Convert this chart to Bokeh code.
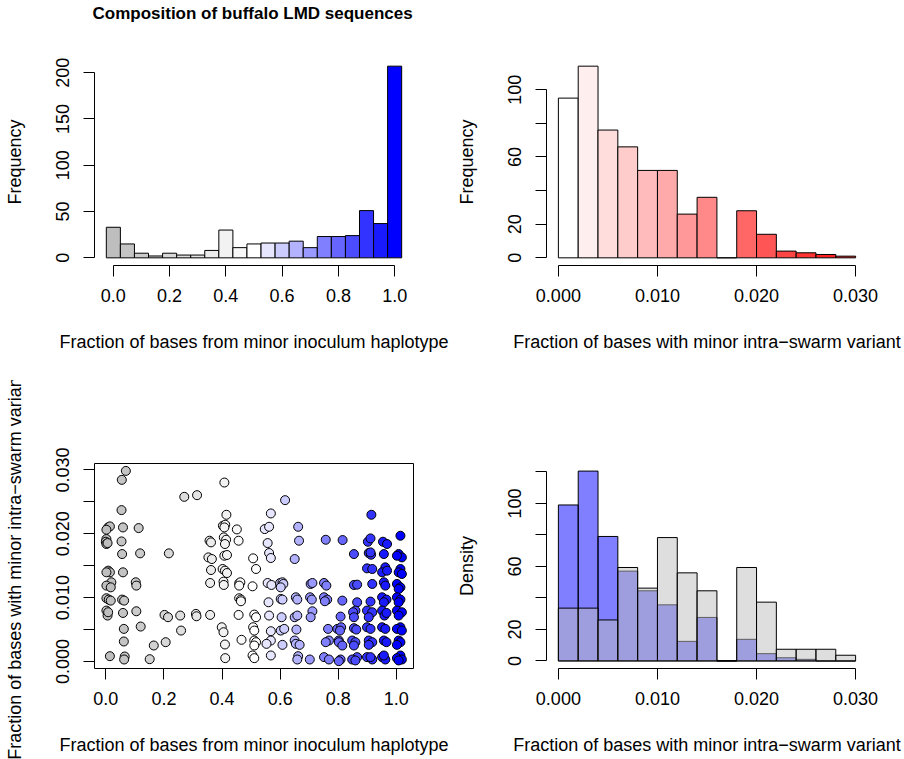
from bokeh.plotting import figure
from bokeh.layouts import gridplot
from bokeh.models import Range1d, FixedTicker, NumeralTickFormatter, ColumnDataSource
from bokeh.embed import file_html
from bokeh.resources import INLINE

FONT = "Liberation Sans"
FS = "18px"

# --- Fraction of bases from the minor inoculum haplotype (bins of width 0.05) ---
hap_centers = [0.00, 0.05, 0.10, 0.15, 0.20, 0.25, 0.30, 0.35, 0.40, 0.45, 0.50,
               0.55, 0.60, 0.65, 0.70, 0.75, 0.80, 0.85, 0.90, 0.95, 1.00]
hap_counts = [33, 15, 5, 2, 5, 3, 3, 8, 30, 11, 15, 16, 16, 18, 11, 23, 23, 24, 51, 37, 207]
hap_width = 0.05

# --- Fraction of bases with a minor intra-swarm variant (bins of width 0.002) ---
var_breaks = [0.000, 0.002, 0.004, 0.006, 0.008, 0.010, 0.012, 0.014, 0.016,
              0.018, 0.020, 0.022, 0.024, 0.026, 0.028, 0.030]
var_counts = [95, 114, 76, 66, 52, 52, 26, 36, 0, 28, 14, 4, 3, 2, 1]

# Densities of the two overlaid groups
dens_blue = [99, 120.5, 79, 57, 44.5, 35.6, 12.4, 27.6, 0, 13.7, 4.6, 2, 1, 0, 0]
dens_gray = [33.5, 33.5, 26, 59.3, 46.2, 78.3, 55.9, 44.5, 0, 59.3, 37.3, 7.4, 7.4, 7.4, 3.6]

# --- Per-sequence values: haplotype fraction vs variant fraction ---
scatter_x = [
    0.008, 0.014, 0.002, 0.002, 0.000, 0.002, 0.006, 0.008, 0.014, 0.002,
    0.019, 0.002, 0.017, 0.002, 0.010, 0.017, 0.002, 0.006, 0.008, 0.014,
    0.069, 0.055, 0.054, 0.059, 0.054, 0.056, 0.059, 0.056, 0.063, 0.059,
    0.062, 0.062, 0.065, 0.063,
    0.113, 0.118, 0.103, 0.105, 0.105, 0.120,
    0.165, 0.151,
    0.206, 0.217, 0.202, 0.214,
    0.270, 0.256, 0.259,
    0.314, 0.310, 0.312,
    0.357, 0.362, 0.353, 0.365, 0.362, 0.359, 0.359,
    0.408, 0.415, 0.403, 0.411, 0.408, 0.406, 0.414, 0.410, 0.408, 0.417,
    0.402, 0.410, 0.417, 0.405, 0.406, 0.399, 0.405, 0.410, 0.411,
    0.451, 0.457, 0.459, 0.463, 0.459, 0.459, 0.465, 0.465, 0.457, 0.467,
    0.507, 0.517, 0.505, 0.511, 0.517, 0.507, 0.511, 0.511, 0.517, 0.511,
    0.505, 0.511,
    0.547, 0.562, 0.568, 0.557, 0.562, 0.568, 0.557, 0.570, 0.560, 0.562,
    0.568, 0.568, 0.553, 0.568,
    0.600, 0.608, 0.611, 0.602, 0.602, 0.608, 0.605, 0.602, 0.614, 0.608,
    0.617,
    0.662, 0.665, 0.650, 0.654, 0.659, 0.650, 0.659, 0.656, 0.650, 0.654,
    0.667, 0.662, 0.659,
    0.705, 0.711, 0.703, 0.709, 0.711, 0.705, 0.702,
    0.757, 0.751, 0.759, 0.751, 0.762, 0.754, 0.765, 0.768, 0.757, 0.751,
    0.768,
    0.815, 0.814, 0.797, 0.810, 0.806, 0.808, 0.802, 0.802, 0.814, 0.808,
    0.802,
    0.854, 0.854, 0.865, 0.865, 0.859, 0.851, 0.854, 0.854, 0.862, 0.848,
    0.859, 0.854, 0.865, 0.848, 0.859,
    0.914, 0.902, 0.911, 0.905, 0.913, 0.911, 0.899, 0.917, 0.917, 0.911,
    0.899, 0.917, 0.905, 0.899, 0.911, 0.905, 0.917, 0.905, 0.899, 0.917,
    0.911,
    0.954, 0.968, 0.957, 0.962, 0.951, 0.968, 0.957, 0.962, 0.951, 0.966,
    0.957, 0.951, 0.959, 0.966, 0.951, 0.962, 0.957, 0.966, 0.951, 0.962,
    0.957,
    1.014, 1.008, 1.019, 1.002, 1.014, 1.008, 1.019, 1.002, 1.014, 1.008,
    1.002, 1.014, 1.008, 1.002, 1.019, 1.008, 1.014, 1.002, 1.019, 1.008,
    1.014, 1.002, 1.014, 1.002, 1.019, 1.008,
]
scatter_y = [
    0.02099, 0.02115, 0.02063, 0.01917, 0.01875, 0.01839, 0.01854, 0.01422, 0.01396, 0.01396,
    0.01240, 0.01188, 0.01161, 0.00990, 0.00969, 0.00953, 0.00797, 0.00719, 0.00771, 0.00083,
    0.02984, 0.02844, 0.02370, 0.02099, 0.01880, 0.01682, 0.01396, 0.00969, 0.00953, 0.00760,
    0.00510, 0.00313, 0.00078, 0.00031,
    0.02089, 0.01693, 0.01240, 0.01188, 0.00786, 0.00547,
    0.00250, 0.00036,
    0.00302, 0.01693, 0.00729, 0.00693,
    0.02578, 0.00719, 0.00484,
    0.02604, 0.00745, 0.00708,
    0.01891, 0.01865, 0.01630, 0.01604, 0.01432, 0.01229, 0.00729,
    0.02802, 0.02297, 0.02125, 0.02141, 0.02099, 0.01943, 0.01906, 0.01839, 0.01656, 0.01667,
    0.01448, 0.01422, 0.01385, 0.01250, 0.01198, 0.00536, 0.00458, 0.00266, 0.00052,
    0.02068, 0.01891, 0.01224, 0.01240, 0.01188, 0.00990, 0.00969, 0.00943, 0.00729, 0.00339,
    0.01615, 0.01448, 0.01177, 0.00734, 0.00693, 0.00536, 0.00484, 0.00328, 0.00302, 0.00250,
    0.00094, 0.00052,
    0.02073, 0.02109, 0.02318, 0.01854, 0.01698, 0.01620, 0.01229, 0.01198, 0.00927, 0.00719,
    0.00474, 0.00328, 0.00276, 0.00094,
    0.01229, 0.01240, 0.01214, 0.01161, 0.00979, 0.00969, 0.00693, 0.00484, 0.00510, 0.00260,
    0.02526,
    0.02109, 0.01891, 0.01604, 0.01005, 0.00969, 0.00693, 0.00719, 0.00500, 0.00328, 0.00276,
    0.00260, 0.00083, 0.00031,
    0.01214, 0.01229, 0.01005, 0.00969, 0.00786, 0.00693, 0.00031,
    0.01906, 0.01229, 0.01188, 0.01005, 0.00969, 0.00943, 0.00510, 0.00328, 0.00302, 0.00068,
    0.00031,
    0.01901, 0.00953, 0.00510, 0.00536, 0.00484, 0.00703, 0.00328, 0.00302, 0.00250, 0.00031,
    0.00005,
    0.01682, 0.01198, 0.01203, 0.00927, 0.00797, 0.00771, 0.00693, 0.00521, 0.00500, 0.00328,
    0.00302, 0.00250, 0.00068, 0.00031, 0.00016,
    0.02297, 0.01875, 0.01927, 0.01698, 0.01672, 0.01708, 0.01458, 0.01448, 0.01214, 0.00938,
    0.00797, 0.00771, 0.00693, 0.00536, 0.00510, 0.00328, 0.00302, 0.00260, 0.00068, 0.00031,
    0.00068,
    0.01875, 0.01839, 0.01682, 0.01474, 0.01396, 0.01422, 0.01240, 0.01188, 0.01005, 0.00969,
    0.00927, 0.00797, 0.00719, 0.00760, 0.00536, 0.00510, 0.00328, 0.00302, 0.00068, 0.00031,
    0.00094,
    0.01969, 0.01682, 0.01630, 0.01656, 0.01448, 0.01396, 0.01370, 0.01214, 0.01161, 0.01135,
    0.01005, 0.00969, 0.00927, 0.00797, 0.00771, 0.00719, 0.00536, 0.00510, 0.00484, 0.00328,
    0.00302, 0.00260, 0.00094, 0.00052, 0.00031, 0.00016,
]

main_title = "Composition of buffalo LMD sequences"
hap_label = "Fraction of bases from minor inoculum haplotype"
var_label = "Fraction of bases with minor intra\u2212swarm variant"


def ramp(c0, c1, t):
    return "#" + "".join("%02x" % round(a + (b - a) * t) for a, b in zip(c0, c1))


# gray -> white -> blue over the 21 haplotype bins
GRAY, WHITE, BLUE, RED = (190, 190, 190), (255, 255, 255), (0, 0, 255), (255, 0, 0)
hap_palette = [ramp(GRAY, WHITE, i / 10) if i <= 10 else ramp(WHITE, BLUE, (i - 10) / 10)
               for i in range(21)]
# white -> red over the variant bins
var_palette = [ramp(WHITE, RED, i / 15) for i in range(len(var_counts))]


def make_fig(height, left, right, top, bottom, xr, yr, outline=False):
    p = figure(width=452, height=height, output_backend="svg", toolbar_location=None,
               x_range=Range1d(*xr), y_range=Range1d(*yr),
               min_border_left=left, min_border_right=right,
               min_border_top=top, min_border_bottom=bottom)
    p.grid.visible = False
    p.outline_line_color = "black" if outline else None
    p.background_fill_color = "white"
    p.border_fill_color = "white"
    return p


def style_axis(ax, ticks, bounds, label, fmt=None, blanks=(), vertical=False):
    ax.ticker = FixedTicker(ticks=ticks)
    ax.bounds = bounds
    if fmt:
        ax.formatter = NumeralTickFormatter(format=fmt)
    if blanks:
        ax.major_label_overrides = {b: "" for b in blanks}
    ax.axis_label = label
    ax.axis_line_color = "black"
    ax.axis_line_width = 1
    ax.major_tick_line_color = "black"
    ax.major_tick_out = 11
    ax.major_tick_in = 0
    ax.minor_tick_out = 0
    ax.minor_tick_in = 0
    ax.major_label_text_font = FONT
    ax.major_label_text_font_size = FS
    ax.major_label_text_color = "black"
    ax.axis_label_text_font = FONT
    ax.axis_label_text_font_size = FS
    ax.axis_label_text_font_style = "normal"
    ax.axis_label_text_color = "black"
    if vertical:
        ax.major_label_orientation = "vertical"
        ax.major_label_standoff = 14
        ax.axis_label_standoff = 29
    else:
        ax.major_label_standoff = 12
        ax.axis_label_standoff = 27


# ---- Top left: haplotype fraction histogram ----
p1 = make_fig(380, 94, 37, 58, 115, (-0.067, 1.067), (-8.28, 215.28))
p1.quad(left=[c - hap_width / 2 for c in hap_centers],
        right=[c + hap_width / 2 for c in hap_centers],
        bottom=0, top=hap_counts, fill_color=hap_palette,
        line_color="black", line_width=1)
style_axis(p1.xaxis[0], [0, 0.2, 0.4, 0.6, 0.8, 1.0], (0, 1), hap_label, fmt="0.0")
style_axis(p1.yaxis[0], [0, 50, 100, 150, 200], (0, 200), "Frequency", vertical=True)
# Overall heading, lifted towards the top of the page by bottom padding
p1.title.text = main_title
p1.title.text_font = FONT
p1.title.text_font_size = "17px"
p1.title.text_font_style = "bold"
p1.title.text_color = "black"
p1.title.text_line_height = 1.0
p1.title.align = "left"
p1.title.offset = -2
p1.title.standoff = 0
p1.title.padding = dict(left=0, right=0, top=0, bottom=36)

# ---- Top right: variant fraction histogram ----
p2 = make_fig(380, 94, 37, 58, 115, (-0.0012, 0.0312), (-4.56, 118.56))
p2.quad(left=var_breaks[:-1], right=var_breaks[1:], bottom=0, top=var_counts,
        fill_color=var_palette, line_color="black", line_width=1)
style_axis(p2.xaxis[0], [0, 0.01, 0.02, 0.03], (0, 0.03), var_label, fmt="0.000")
style_axis(p2.yaxis[0], [0, 20, 40, 60, 80, 100], (0, 100), "Frequency",
           blanks=(40, 80), vertical=True)

# ---- Bottom left: scatter of the two fractions ----
p3 = make_fig(379, 93, 39, 83, 91, (-0.039, 1.059), (-0.0011, 0.0310), outline=True)
pt_colors = [hap_palette[min(20, max(0, round(x / hap_width)))] for x in scatter_x]
src = ColumnDataSource(dict(x=scatter_x, y=scatter_y, c=pt_colors))
p3.scatter("x", "y", source=src, size=9, fill_color="c", line_color="black", line_width=1)
style_axis(p3.xaxis[0], [0, 0.2, 0.4, 0.6, 0.8, 1.0], (0, 1), hap_label, fmt="0.0")
style_axis(p3.yaxis[0], [0, 0.005, 0.01, 0.015, 0.02, 0.025, 0.03], (0, 0.03), var_label,
           fmt="0.000", blanks=(0.005, 0.015, 0.025), vertical=True)

# ---- Bottom right: overlaid density histograms ----
p4 = make_fig(379, 94, 37, 83, 91, (-0.0012, 0.0312), (-4.82, 125.32))
p4.quad(left=var_breaks[:-1], right=var_breaks[1:], bottom=0, top=dens_blue,
        fill_color="blue", fill_alpha=0.5, line_color="black", line_width=1)
p4.quad(left=var_breaks[:-1], right=var_breaks[1:], bottom=0, top=dens_gray,
        fill_color="#bebebe", fill_alpha=0.5, line_color="black", line_width=1)
style_axis(p4.xaxis[0], [0, 0.01, 0.02, 0.03], (0, 0.03), var_label, fmt="0.000")
style_axis(p4.yaxis[0], [0, 20, 40, 60, 80, 100, 120], (0, 120), "Density",
           blanks=(40, 80, 120), vertical=True)

grid = gridplot([[p1, p2], [p3, p4]], toolbar_location=None)

with open("out.html", "w") as f:
    f.write(file_html(grid, INLINE))
